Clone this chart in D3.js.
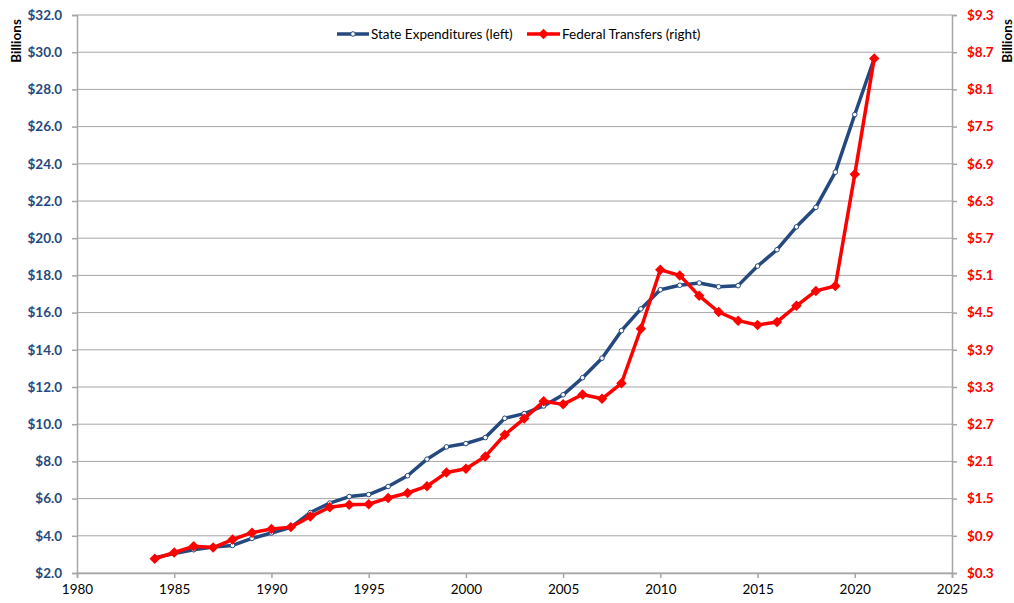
<!DOCTYPE html>
<html>
<head>
<meta charset="utf-8">
<script src="https://cdn.jsdelivr.net/npm/d3@7"></script>
<style>
  body { margin: 0; background: #fff; }
  #chart { width: 1014px; height: 603px; }
  text { font-family: Lato, "Open Sans", sans-serif; }
</style>
</head>
<body>
<div id="chart"></div>
<script>
// Datos
const years = [1984,1985,1986,1987,1988,1989,1990,1991,1992,1993,1994,1995,1996,1997,1998,1999,2000,2001,2002,2003,2004,2005,2006,2007,2008,2009,2010,2011,2012,2013,2014,2015,2016,2017,2018,2019,2020,2021];
const stateExp = [2.82,3.04,3.25,3.4,3.48,3.86,4.15,4.45,5.25,5.76,6.11,6.22,6.65,7.23,8.12,8.78,8.96,9.28,10.32,10.57,10.98,11.58,12.5,13.55,15.03,16.2,17.23,17.47,17.59,17.39,17.45,18.5,19.38,20.61,21.66,23.55,26.65,29.66];
const fedTransfers = [0.53,0.63,0.73,0.71,0.84,0.95,1.01,1.04,1.21,1.36,1.40,1.41,1.51,1.59,1.70,1.92,1.98,2.18,2.53,2.79,3.07,3.02,3.18,3.11,3.36,4.24,5.19,5.10,4.77,4.51,4.37,4.30,4.35,4.61,4.85,4.93,6.73,8.60];
const xTicks = [1980,1985,1990,1995,2000,2005,2010,2015,2020,2025];
const leftTicks = [2,4,6,8,10,12,14,16,18,20,22,24,26,28,30,32];
const rightTicks = [0.3,0.9,1.5,2.1,2.7,3.3,3.9,4.5,5.1,5.7,6.3,6.9,7.5,8.1,8.7,9.3];

const COLOR_BLUE = '#24497e', COLOR_RED = '#ff0000', COLOR_GRID = '#a6a6a6';

let margin = {top: 15, right: 62, bottom: 30, left: 77},
    width = 1014 - margin.left - margin.right,
    height = 603 - margin.top - margin.bottom;

let svg = d3.select('#chart').append('svg')
    .attr('width', 1014).attr('height', 603)
  .append('g')
    .attr('transform', 'translate(' + margin.left + ',' + margin.top + ')');

let x = d3.scaleLinear().domain([1980, 2025]).range([0, width]);
let yL = d3.scaleLinear().domain([2, 32]).range([height, 0]);
let yR = d3.scaleLinear().domain([0.3, 9.3]).range([height, 0]);

// Rejilla
svg.append('g').selectAll('line').data(leftTicks).enter().append('line')
    .attr('x1', 0).attr('x2', width)
    .attr('y1', d => yL(d)).attr('y2', d => yL(d))
    .attr('stroke', COLOR_GRID).attr('stroke-width', 1);

// Ejes
let xAxis = svg.append('g').attr('transform', 'translate(0,' + height + ')')
    .call(d3.axisBottom(x).tickValues(xTicks).tickFormat(d3.format('d')).tickSize(5).tickPadding(6));
let leftAxis = svg.append('g')
    .call(d3.axisLeft(yL).tickValues(leftTicks).tickFormat(d => '$' + d.toFixed(1)).tickSize(5).tickPadding(10));
let rightAxis = svg.append('g').attr('transform', 'translate(' + width + ',0)')
    .call(d3.axisRight(yR).tickValues(rightTicks).tickFormat(d => '$' + d.toFixed(1)).tickSize(5).tickPadding(10));

[xAxis, leftAxis, rightAxis].forEach(g => {
    g.select('.domain').attr('stroke', COLOR_GRID).attr('stroke-width', 1.5);
    g.selectAll('.tick line').attr('stroke', COLOR_GRID).attr('stroke-width', 1.5);
});
xAxis.selectAll('text').attr('font-size', 13.5).attr('fill', '#000');
leftAxis.selectAll('text').attr('font-size', 13.5).attr('font-weight', 'bold').attr('fill', COLOR_BLUE);
rightAxis.selectAll('text').attr('font-size', 13.5).attr('font-weight', 'bold').attr('fill', COLOR_RED);

// Etiquetas "Billions"
svg.append('text').attr('transform', 'translate(' + (21 - margin.left) + ',' + (41 - margin.top) + ') rotate(-90)')
    .attr('text-anchor', 'middle').attr('font-size', 13.5).attr('font-weight', 'bold').text('Billions');
svg.append('text').attr('transform', 'translate(' + (1012 - margin.left) + ',' + (41 - margin.top) + ') rotate(-90)')
    .attr('text-anchor', 'middle').attr('font-size', 13.5).attr('font-weight', 'bold').text('Billions');

// Líneas
let lineL = d3.line().x((d, i) => x(years[i])).y(d => yL(d));
let lineR = d3.line().x((d, i) => x(years[i])).y(d => yR(d));

svg.append('path').datum(stateExp).attr('d', lineL)
    .attr('fill', 'none').attr('stroke', COLOR_BLUE).attr('stroke-width', 3.5).attr('stroke-linejoin', 'round');
svg.append('g').selectAll('circle').data(stateExp).enter().append('circle')
    .attr('cx', (d, i) => x(years[i])).attr('cy', d => yL(d)).attr('r', 2.3)
    .attr('fill', '#fff').attr('stroke', COLOR_BLUE).attr('stroke-width', 1);

svg.append('path').datum(fedTransfers).attr('d', lineR)
    .attr('fill', 'none').attr('stroke', COLOR_RED).attr('stroke-width', 3.5).attr('stroke-linejoin', 'round');
let diamond = d3.symbol().type(d3.symbolDiamond2).size(70);
svg.append('g').selectAll('path').data(fedTransfers).enter().append('path')
    .attr('d', diamond)
    .attr('transform', (d, i) => 'translate(' + x(years[i]) + ',' + yR(d) + ')')
    .attr('fill', COLOR_RED);

// Leyenda
let legend = svg.append('g').attr('transform', 'translate(' + (337 - margin.left) + ',' + (34 - margin.top) + ')');
legend.append('line').attr('x1', 0).attr('x2', 32).attr('stroke', COLOR_BLUE).attr('stroke-width', 3.5);
legend.append('circle').attr('cx', 16).attr('r', 2.3).attr('fill', '#fff').attr('stroke', COLOR_BLUE);
legend.append('text').attr('x', 34).attr('y', 4.5).attr('font-size', 13.5).text('State Expenditures (left)');
legend.append('line').attr('x1', 190).attr('x2', 223).attr('stroke', COLOR_RED).attr('stroke-width', 3.5);
legend.append('path').attr('d', diamond).attr('transform', 'translate(206.5,0)').attr('fill', COLOR_RED);
legend.append('text').attr('x', 225).attr('y', 4.5).attr('font-size', 13.5).text('Federal Transfers (right)');
</script>
</body>
</html>
